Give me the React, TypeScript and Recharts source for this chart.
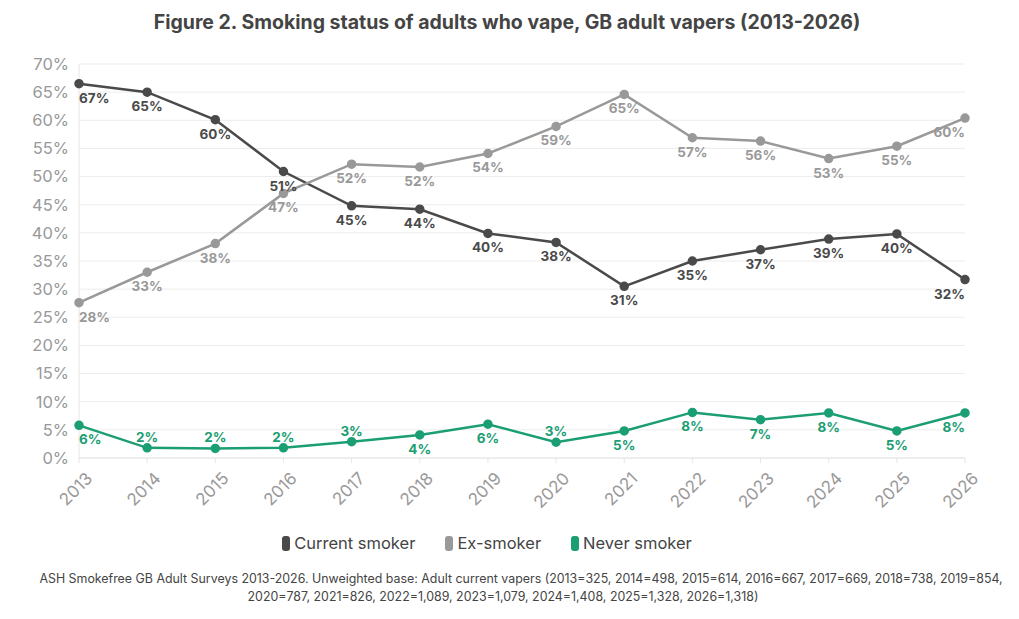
import { LineChart, Line, XAxis, YAxis, CartesianGrid, LabelList } from "recharts";

const years = ["2013", "2014", "2015", "2016", "2017", "2018", "2019", "2020", "2021", "2022", "2023", "2024", "2025", "2026"];
const currentSmoker = [66.5, 65.0, 60.1, 50.9, 44.8, 44.2, 39.9, 38.3, 30.5, 35.0, 37.0, 38.9, 39.8, 31.7];
const exSmoker = [27.6, 33.0, 38.1, 47.0, 52.2, 51.7, 54.1, 58.9, 64.6, 56.9, 56.3, 53.2, 55.4, 60.4];
const neverSmoker = [5.8, 1.8, 1.7, 1.8, 2.9, 4.1, 6.0, 2.8, 4.8, 8.1, 6.8, 8.0, 4.8, 8.0];
const yTicks = [0, 5, 10, 15, 20, 25, 30, 35, 40, 45, 50, 55, 60, 65, 70];

const colors = { current: "#4a4a4a", ex: "#999999", never: "#1b9e74" };
const font = "Inter, 'Noto Sans', sans-serif";

const data = years.map((y, i) => ({
  year: y,
  current: currentSmoker[i],
  ex: exSmoker[i],
  never: neverSmoker[i],
}));

const legendItems = [
  { label: "Current smoker", color: colors.current },
  { label: "Ex-smoker", color: colors.ex },
  { label: "Never smoker", color: colors.never },
];

function makeLabel(color: string, aboveWhenLow: boolean) {
  return (props: any) => {
    const { x, y, value, index } = props;
    const last = years.length - 1;
    const anchor = index === 0 ? "start" : index === last ? "end" : "middle";
    const above = aboveWhenLow && value < 3.5;
    return (
      <text
        x={x}
        y={above ? y - 11 : y + 14}
        textAnchor={anchor}
        dominantBaseline="central"
        fill={color}
        fontSize={13.5}
        fontWeight={700}
        fontFamily={font}
      >
        {Math.round(value)}%
      </text>
    );
  };
}

export default function App() {
  return (
    <div style={{ position: "absolute", left: 0, top: 0, width: 1019, height: 619, background: "#fff", fontFamily: font }}>
      <div style={{ position: "absolute", top: 10, left: 0, width: 1014, textAlign: "center", fontSize: 19.5, fontWeight: 700, color: "#444" }}>
        Figure 2. Smoking status of adults who vape, GB adult vapers (2013-2026)
      </div>
      <LineChart width={1019} height={619} data={data} margin={{ top: 64, right: 54, left: 0, bottom: 101 }}>
        <CartesianGrid vertical={false} stroke="#ececec" />
        <XAxis
          dataKey="year"
          height={60}
          interval={0}
          angle={-45}
          textAnchor="end"
          tick={{ fill: "#999", fontSize: 17, fontFamily: font, dx: 6, dy: 6 }}
          axisLine={{ stroke: "#e6e6e6" }}
          tickLine={{ stroke: "#e6e6e6" }}
          tickSize={5}
        />
        <YAxis
          width={79}
          domain={[0, 70]}
          ticks={yTicks}
          interval={0}
          tickFormatter={(v) => `${v}%`}
          tick={{ fill: "#999", fontSize: 16.5, fontFamily: font }}
          axisLine={{ stroke: "#e6e6e6" }}
          tickLine={false}
          tickMargin={4}
        />
        <Line dataKey="current" stroke={colors.current} strokeWidth={2.5} dot={{ r: 3.5, fill: colors.current, stroke: colors.current }} isAnimationActive={false}>
          <LabelList dataKey="current" content={makeLabel(colors.current, false)} />
        </Line>
        <Line dataKey="ex" stroke={colors.ex} strokeWidth={2.5} dot={{ r: 3.5, fill: colors.ex, stroke: colors.ex }} isAnimationActive={false}>
          <LabelList dataKey="ex" content={makeLabel(colors.ex, false)} />
        </Line>
        <Line dataKey="never" stroke={colors.never} strokeWidth={2.5} dot={{ r: 3.5, fill: colors.never, stroke: colors.never }} isAnimationActive={false}>
          <LabelList dataKey="never" content={makeLabel(colors.never, true)} />
        </Line>
      </LineChart>
      <div style={{ position: "absolute", top: 533, left: 0, width: 974, display: "flex", justifyContent: "center", gap: 30, fontSize: 16.5, color: "#444" }}>
        {legendItems.map((it) => (
          <div key={it.label} style={{ display: "flex", alignItems: "center", gap: 4 }}>
            <span style={{ display: "inline-block", width: 8, height: 15, borderRadius: 3, background: it.color }} />
            <span>{it.label}</span>
          </div>
        ))}
      </div>
      <div style={{ position: "absolute", top: 570, left: 21, width: 1000, textAlign: "center", fontSize: 12.4, lineHeight: "18px", color: "#444", whiteSpace: "nowrap" }}>
        ASH Smokefree GB Adult Surveys 2013-2026. Unweighted base: Adult current vapers (2013=325, 2014=498, 2015=614, 2016=667, 2017=669, 2018=738, 2019=854,
      </div>
      <div style={{ position: "absolute", top: 588, left: 3, width: 1000, textAlign: "center", fontSize: 12.4, lineHeight: "18px", color: "#444", whiteSpace: "nowrap" }}>
        2020=787, 2021=826, 2022=1,089, 2023=1,079, 2024=1,408, 2025=1,328, 2026=1,318)
      </div>
    </div>
  );
}
